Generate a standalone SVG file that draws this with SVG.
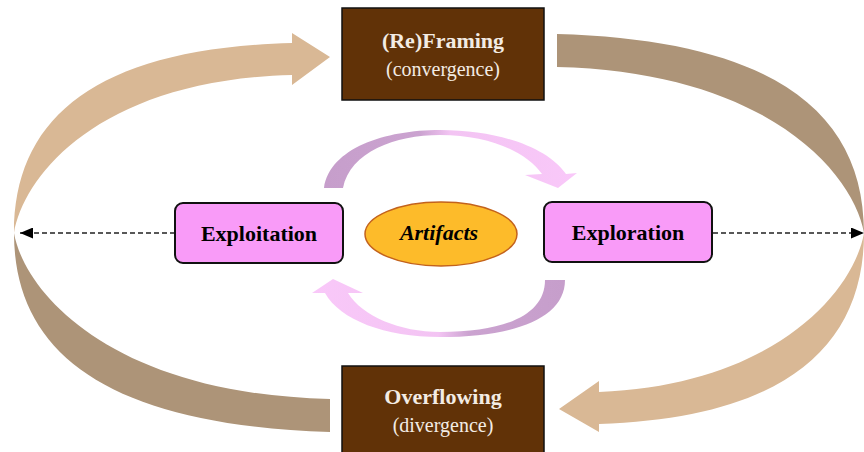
<svg xmlns="http://www.w3.org/2000/svg" width="864" height="452" viewBox="0 0 864 452">
  <defs>
    <style>
      .light { fill: #D9B895; }
      .dark { fill: #AD9478; }
      .brown { fill: #613207; stroke: #111; stroke-width: 1.5; }
      .pink { fill: #F99BF8; stroke: #111; stroke-width: 2; }
      .title { font-family: "Liberation Serif", "Times New Roman", serif; font-weight: bold; font-size: 22px; text-anchor: middle; }
      .sub { font-family: "Liberation Serif", "Times New Roman", serif; font-size: 20px; text-anchor: middle; }
      .onbrown { fill: #F3ECE4; }
      .dash { stroke: #222; stroke-width: 1.5; stroke-dasharray: 5 3; fill: none; marker-end: url(#arr); }
    </style>
    <marker id="arr" markerUnits="userSpaceOnUse" markerWidth="13" markerHeight="11" refX="13" refY="5.5" orient="auto">
      <path d="M0,0 L13,5.5 L0,11 Z" fill="#000"/>
    </marker>
    <linearGradient id="gTop" gradientUnits="userSpaceOnUse" x1="324" y1="0" x2="577" y2="0">
      <stop offset="0" stop-color="#C69ECB"/>
      <stop offset="0.38" stop-color="#CBA3D0"/>
      <stop offset="0.5" stop-color="#F3C4F3"/>
      <stop offset="1" stop-color="#F9C8F9"/>
    </linearGradient>
    <linearGradient id="gBot" gradientUnits="userSpaceOnUse" x1="312" y1="0" x2="565" y2="0">
      <stop offset="0" stop-color="#F9C8F9"/>
      <stop offset="0.5" stop-color="#F3C4F3"/>
      <stop offset="0.62" stop-color="#CBA3D0"/>
      <stop offset="1" stop-color="#C69ECB"/>
    </linearGradient>
  </defs>

  <g id="connectors">
    <!-- big outer loop: Overflowing -> (Re)Framing (left side) -->
    <path class="light" d="M 14,233 C 14,115 100,48 292,43 L 292,33 L 330,57 L 292,85 L 292,75 C 100,80 24,175 14,233 Z"/>
    <path class="dark" d="M 14,233 C 14,355 110,425 330,432 L 330,399 C 110,394 24,291 14,233 Z"/>
    <!-- big outer loop: (Re)Framing -> Overflowing (right side) -->
    <path class="dark" d="M 557,34 C 770,40 864,110 864,233 C 854,175 770,72 557,67 Z"/>
    <path class="light" d="M 864,233 C 864,350 780,418 599,424 L 599,432 L 559,409 L 599,381 L 599,392 C 775,385 854,291 864,233 Z"/>
    <!-- inner purple arrows -->
    <path fill="url(#gTop)" d="M 324,188 C 330,148 385,130 440,130 C 500,130 548,148 566,174 L 577,173 L 558,188 L 525,175 L 542,174 C 526,152 490,135 440,135 C 395,135 350,152 343,188 Z"/>
    <path fill="url(#gBot)" d="M 565,280 C 565,318 515,337 440,337 C 385,337 340,320 325,293 L 312,293 L 333,279 L 363,293 L 348,293 C 362,316 400,332 440,332 C 505,332 545,315 545,280 Z"/>
    <!-- dashed arrows -->
    <line class="dash" x1="175" y1="233" x2="20" y2="233"/>
    <line class="dash" x1="713" y1="233" x2="864" y2="233"/>
  </g>

  <g id="reframing">
    <rect class="brown" x="342" y="8" width="202" height="92"/>
    <text class="title onbrown" x="443" y="48">(Re)Framing</text>
    <text class="sub onbrown" x="443" y="76">(convergence)</text>
  </g>

  <g id="overflowing">
    <rect class="brown" x="342" y="366" width="202" height="100"/>
    <text class="title onbrown" x="443" y="404">Overflowing</text>
    <text class="sub onbrown" x="443" y="432">(divergence)</text>
  </g>

  <g id="exploitation">
    <rect class="pink" x="175" y="203" width="168" height="60" rx="8"/>
    <text class="title" x="259" y="241" fill="#000">Exploitation</text>
  </g>

  <g id="artifacts">
    <ellipse cx="441" cy="234" rx="76" ry="32" fill="#FDBB2A" stroke="#C3621C" stroke-width="1.5"/>
    <text class="title" x="439" y="240" fill="#000" font-style="italic">Artifacts</text>
  </g>

  <g id="exploration">
    <rect class="pink" x="544" y="202" width="168" height="60" rx="8"/>
    <text class="title" x="628" y="240" fill="#000">Exploration</text>
  </g>
</svg>
